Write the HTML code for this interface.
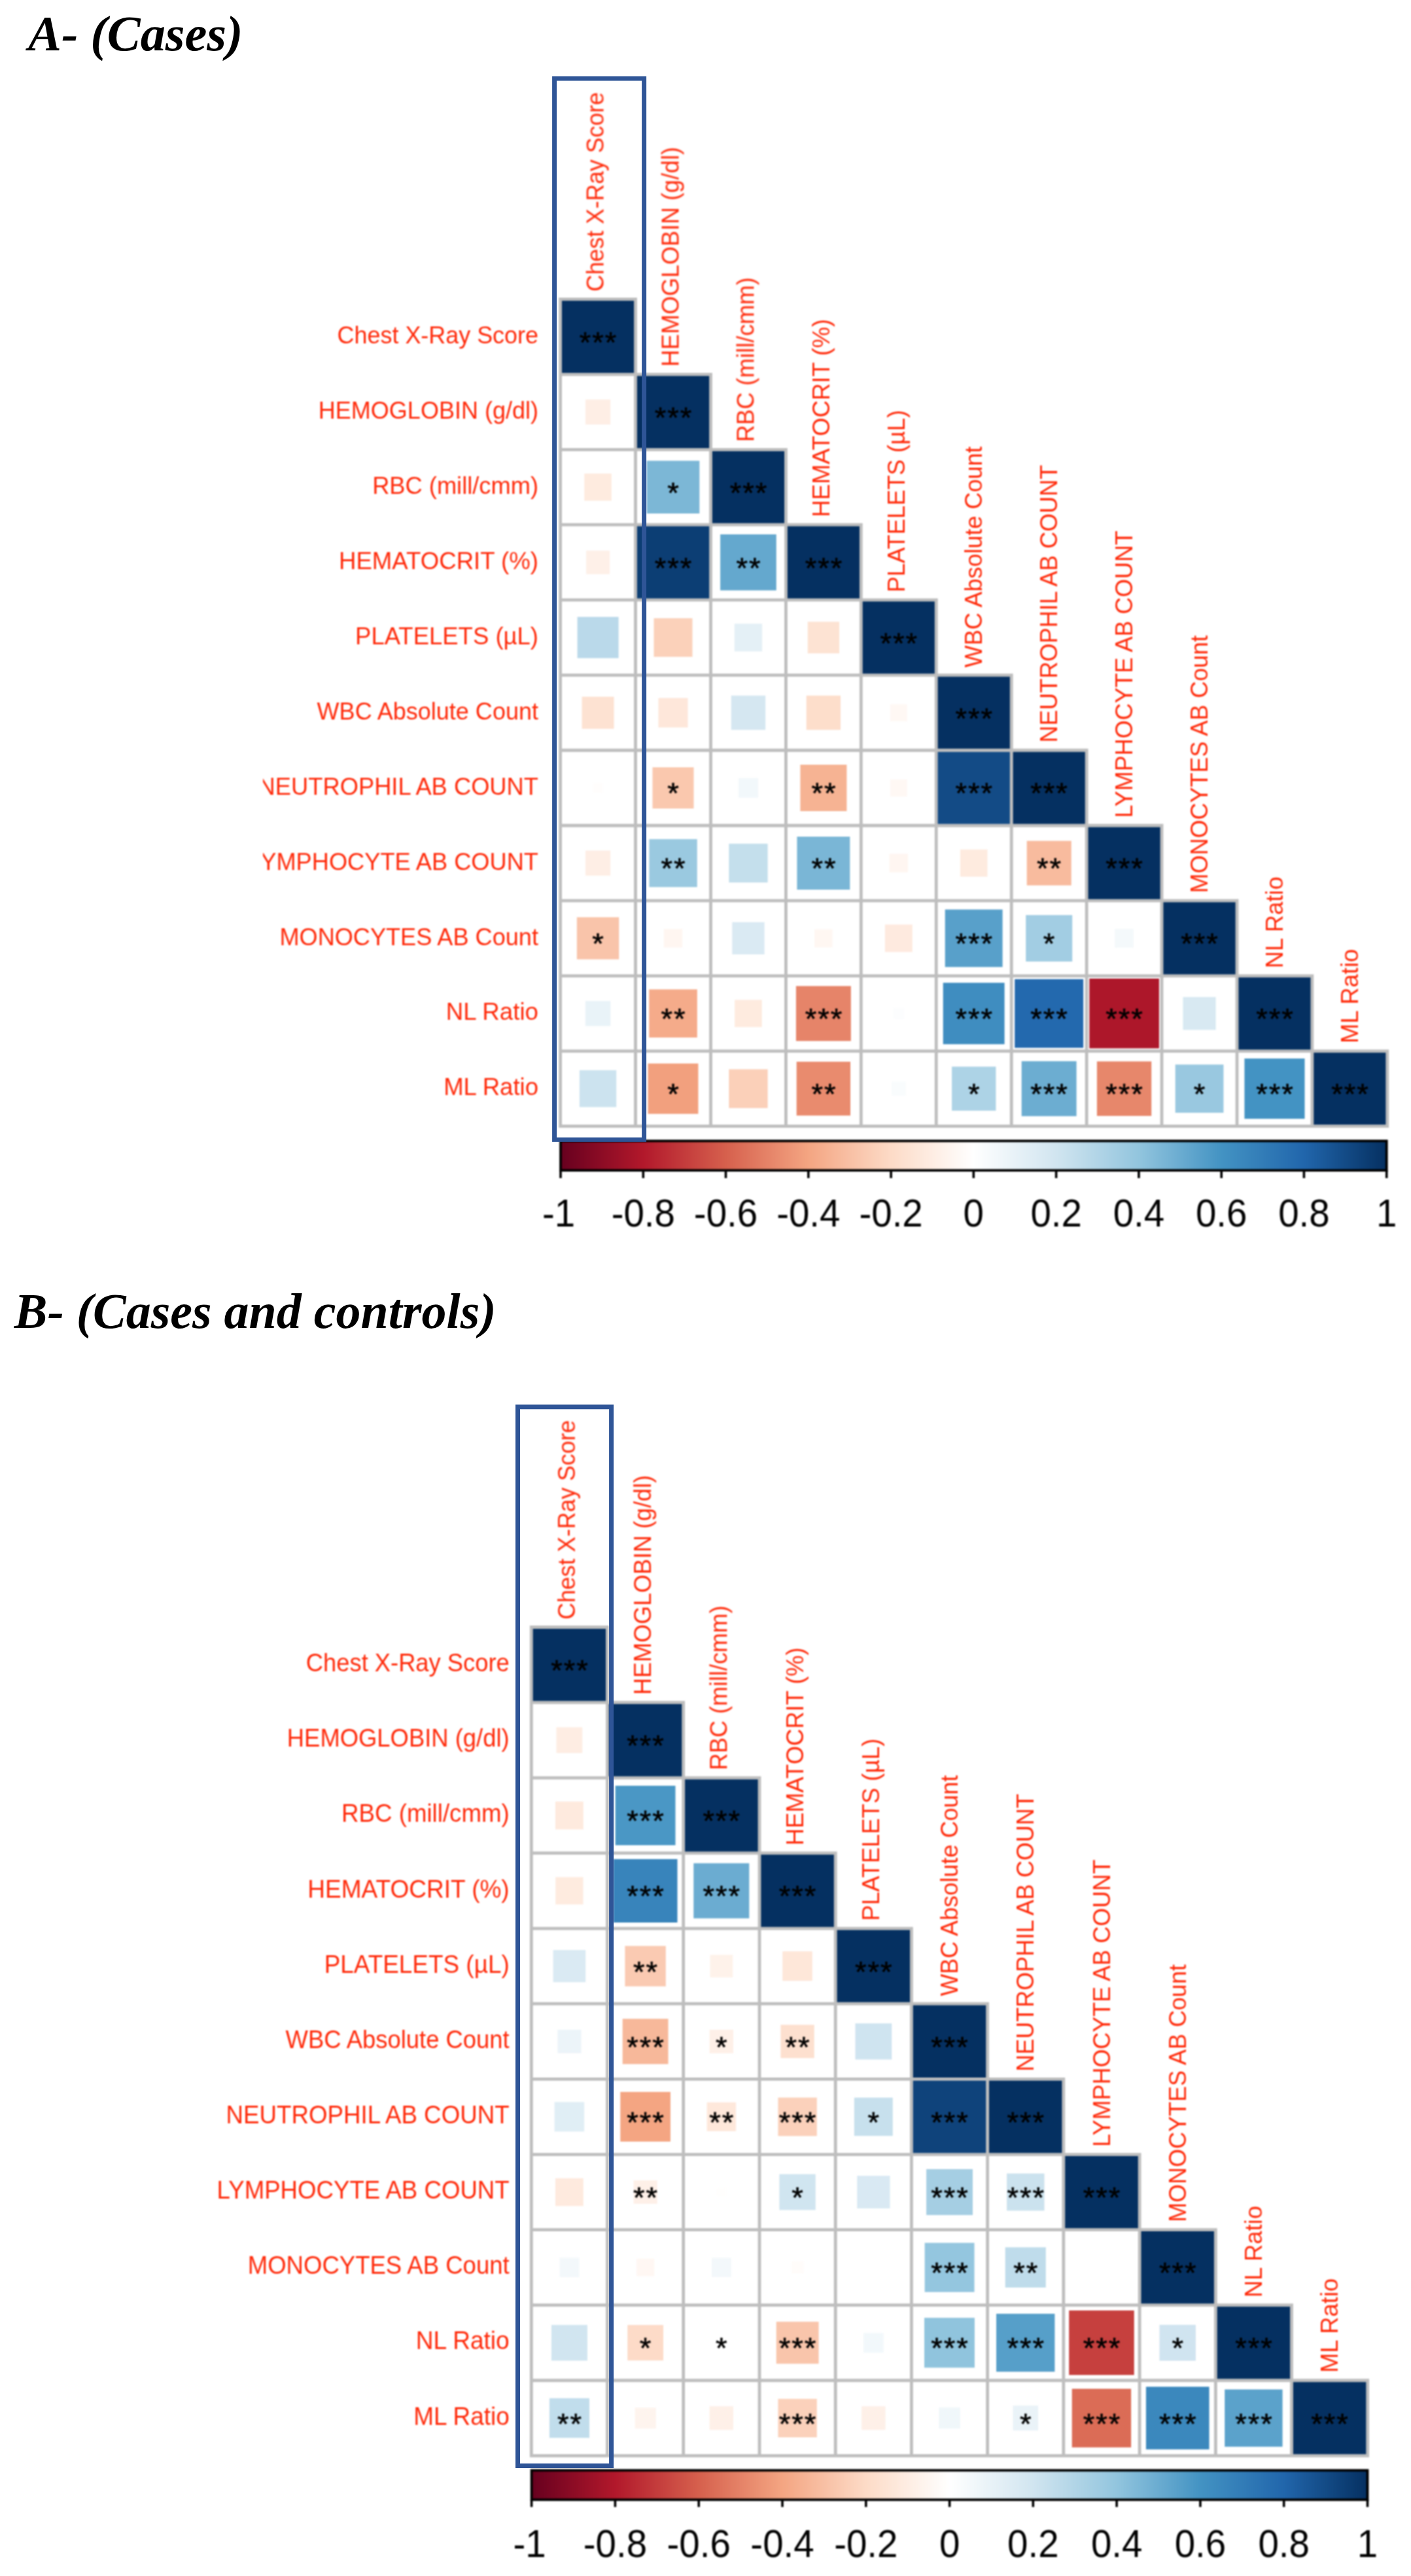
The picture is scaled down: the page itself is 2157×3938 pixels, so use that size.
<!DOCTYPE html>
<html><head><meta charset="utf-8"><title>Correlation plots</title>
<style>
html,body{margin:0;padding:0;background:#fff}
svg{display:block}
text{font-family:"Liberation Sans",sans-serif}
.ti{font-family:"Liberation Serif",serif;font-weight:bold;font-style:italic;fill:#000}
.st{font-size:45px;letter-spacing:2px;text-anchor:middle;fill:#000;stroke:#000;stroke-width:0.6px}
.tk{font-size:58.5px;text-anchor:middle;fill:#000}
.rl{text-anchor:end;fill:#FF2A0A}
.cl{text-anchor:start;fill:#FF2A0A}
</style></head><body>
<svg width="2157" height="3938" viewBox="0 0 2157 3938">
<rect width="2157" height="3938" fill="#fff"/>
<defs><linearGradient id="rdbu" x1="0" y1="0" x2="1" y2="0"><stop offset="0%" stop-color="#67001F"/><stop offset="10%" stop-color="#B2182B"/><stop offset="20%" stop-color="#D6604D"/><stop offset="30%" stop-color="#F4A582"/><stop offset="40%" stop-color="#FDDBC7"/><stop offset="50%" stop-color="#FFFFFF"/><stop offset="60%" stop-color="#D1E5F0"/><stop offset="70%" stop-color="#92C5DE"/><stop offset="80%" stop-color="#4393C3"/><stop offset="90%" stop-color="#2166AC"/><stop offset="100%" stop-color="#053061"/></linearGradient><filter id="soft" color-interpolation-filters="sRGB" filterUnits="userSpaceOnUse" x="0" y="0" width="2157" height="3938"><feGaussianBlur stdDeviation="0.9"/></filter></defs>
<text x="43" y="77" class="ti" font-size="76.3">A- (Cases)</text>
<text x="21.7" y="2030" class="ti" font-size="76">B- (Cases and controls)</text>
<g filter="url(#soft)">
<defs><clipPath id="clipA"><rect x="402" y="407" width="900" height="1400"/></clipPath></defs><rect x="856.6" y="457.4" width="114.9" height="114.9" fill="#053061"/>
<rect x="971.5" y="572.3" width="114.9" height="114.9" fill="#053061"/>
<rect x="894.9" y="610.7" width="38.3" height="38.3" fill="#FEEEE5"/>
<rect x="1086.5" y="687.3" width="114.9" height="114.9" fill="#053061"/>
<rect x="893.2" y="723.9" width="41.6" height="41.6" fill="#FEEBDF"/>
<rect x="988.7" y="704.4" width="80.6" height="80.6" fill="#7CB7D6"/>
<rect x="1201.4" y="802.2" width="114.9" height="114.9" fill="#053061"/>
<rect x="896.1" y="841.7" width="36.0" height="36.0" fill="#FEF0E8"/>
<rect x="971.5" y="802.2" width="115.0" height="115.0" fill="#0C3E74"/>
<rect x="1101.1" y="816.9" width="85.6" height="85.6" fill="#64A8CE"/>
<rect x="1316.3" y="917.2" width="114.9" height="114.9" fill="#053061"/>
<rect x="882.6" y="943.1" width="63.0" height="63.0" fill="#BAD9EA"/>
<rect x="999.5" y="945.1" width="59.0" height="59.0" fill="#FBD1BA"/>
<rect x="1122.8" y="953.5" width="42.3" height="42.3" fill="#E4F0F6"/>
<rect x="1234.7" y="950.5" width="48.3" height="48.3" fill="#FDE3D3"/>
<rect x="1431.3" y="1032.1" width="114.9" height="114.9" fill="#053061"/>
<rect x="889.6" y="1065.1" width="49.0" height="49.0" fill="#FDE2D2"/>
<rect x="1006.5" y="1067.1" width="45.0" height="45.0" fill="#FEE7DA"/>
<rect x="1117.8" y="1063.4" width="52.3" height="52.3" fill="#D5E7F1"/>
<rect x="1232.7" y="1063.4" width="52.3" height="52.3" fill="#FDDECB"/>
<rect x="1360.8" y="1076.6" width="26.0" height="26.0" fill="#FFF8F4"/>
<rect x="1546.2" y="1147.0" width="114.9" height="114.9" fill="#053061"/>
<rect x="906.6" y="1197.0" width="15.0" height="15.0" fill="#FFFDFC"/>
<rect x="997.5" y="1173.0" width="63.0" height="63.0" fill="#FAC8AE"/>
<rect x="1128.9" y="1189.5" width="30.0" height="30.0" fill="#F2F8FB"/>
<rect x="1223.4" y="1169.0" width="71.0" height="71.0" fill="#F6B393"/>
<rect x="1360.8" y="1191.5" width="26.0" height="26.0" fill="#FFF8F4"/>
<rect x="1431.2" y="1147.0" width="115.0" height="115.0" fill="#134B86"/>
<rect x="1661.1" y="1262.0" width="114.9" height="114.9" fill="#053061"/>
<rect x="894.9" y="1300.3" width="38.3" height="38.3" fill="#FEEEE5"/>
<rect x="992.4" y="1282.8" width="73.3" height="73.3" fill="#9AC9E0"/>
<rect x="1114.3" y="1289.8" width="59.3" height="59.3" fill="#C4DFEC"/>
<rect x="1218.4" y="1279.0" width="80.9" height="81.0" fill="#7AB6D6"/>
<rect x="1359.6" y="1305.3" width="28.3" height="28.3" fill="#FFF6F1"/>
<rect x="1467.9" y="1298.6" width="41.6" height="41.6" fill="#FEEBDF"/>
<rect x="1569.7" y="1285.5" width="68.0" height="68.0" fill="#F8BB9E"/>
<rect x="1776.0" y="1376.9" width="114.9" height="114.9" fill="#053061"/>
<rect x="881.9" y="1402.2" width="64.3" height="64.3" fill="#F9C4AA"/>
<rect x="1014.8" y="1420.2" width="28.3" height="28.3" fill="#FFF6F1"/>
<rect x="1119.3" y="1409.7" width="49.3" height="49.3" fill="#DAEAF3"/>
<rect x="1245.0" y="1420.6" width="27.6" height="27.7" fill="#FFF7F2"/>
<rect x="1352.8" y="1413.4" width="42.0" height="42.0" fill="#FEEADF"/>
<rect x="1444.7" y="1390.4" width="87.9" height="87.9" fill="#58A0CA"/>
<rect x="1568.2" y="1398.9" width="71.0" height="71.0" fill="#A2CDE3"/>
<rect x="1704.3" y="1420.1" width="28.6" height="28.7" fill="#F4F9FB"/>
<rect x="1891.0" y="1491.9" width="114.9" height="114.9" fill="#053061"/>
<rect x="894.9" y="1530.2" width="38.3" height="38.3" fill="#E9F3F8"/>
<rect x="992.2" y="1512.5" width="73.6" height="73.6" fill="#F5AB8A"/>
<rect x="1123.1" y="1528.5" width="41.6" height="41.6" fill="#FEEBDF"/>
<rect x="1216.9" y="1507.4" width="83.9" height="84.0" fill="#E68469"/>
<rect x="1365.5" y="1541.0" width="16.7" height="16.7" fill="#FCFDFE"/>
<rect x="1441.7" y="1502.4" width="93.9" height="93.9" fill="#3F8DC0"/>
<rect x="1551.2" y="1496.9" width="104.9" height="104.9" fill="#2369AE"/>
<rect x="1665.3" y="1496.0" width="106.6" height="106.6" fill="#AD172A"/>
<rect x="1808.4" y="1524.2" width="50.2" height="50.2" fill="#D8E9F2"/>
<rect x="2005.9" y="1606.8" width="114.9" height="114.9" fill="#053061"/>
<rect x="885.9" y="1636.1" width="56.3" height="56.3" fill="#CCE3EF"/>
<rect x="990.5" y="1625.8" width="76.9" height="77.0" fill="#F2A07E"/>
<rect x="1114.3" y="1634.6" width="59.3" height="59.3" fill="#FBD0B9"/>
<rect x="1217.7" y="1623.1" width="82.3" height="82.3" fill="#E98B6E"/>
<rect x="1363.0" y="1653.4" width="21.7" height="21.7" fill="#F9FCFD"/>
<rect x="1455.1" y="1630.6" width="67.3" height="67.3" fill="#ADD3E6"/>
<rect x="1561.7" y="1622.3" width="83.9" height="84.0" fill="#6CADD1"/>
<rect x="1676.9" y="1622.6" width="83.3" height="83.3" fill="#E7876B"/>
<rect x="1796.7" y="1627.4" width="73.7" height="73.7" fill="#99C8E0"/>
<rect x="1902.4" y="1618.2" width="92.1" height="92.1" fill="#4393C3"/>
<path d="M854.2 457.4H973.9M854.2 572.3H1088.9M854.2 687.3H1203.8M854.2 802.2H1318.7M854.2 917.2H1433.7M854.2 1032.1H1548.6M854.2 1147.0H1663.5M854.2 1262.0H1778.4M854.2 1376.9H1893.4M854.2 1491.9H2008.3M854.2 1606.8H2123.2M854.2 1721.7H2123.2M856.6 455.0V1724.1M971.5 455.0V1724.1M1086.5 569.9V1724.1M1201.4 684.9V1724.1M1316.3 799.8V1724.1M1431.2 914.8V1724.1M1546.2 1029.7V1724.1M1661.1 1144.6V1724.1M1776.0 1259.6V1724.1M1891.0 1374.5V1724.1M2005.9 1489.5V1724.1M2120.8 1604.4V1724.1" stroke="#BEBEBE" stroke-width="4.8" fill="none"/>
<text x="915.1" y="538.8" class="st">***</text>
<text x="1030.0" y="653.7" class="st">***</text>
<text x="1144.9" y="768.6" class="st">***</text>
<text x="1030.0" y="768.6" class="st">*</text>
<text x="1259.9" y="883.6" class="st">***</text>
<text x="1030.0" y="883.6" class="st">***</text>
<text x="1144.9" y="883.6" class="st">**</text>
<text x="1374.8" y="998.5" class="st">***</text>
<text x="1489.7" y="1113.5" class="st">***</text>
<text x="1604.6" y="1228.4" class="st">***</text>
<text x="1030.0" y="1228.4" class="st">*</text>
<text x="1259.9" y="1228.4" class="st">**</text>
<text x="1489.7" y="1228.4" class="st">***</text>
<text x="1719.6" y="1343.3" class="st">***</text>
<text x="1030.0" y="1343.3" class="st">**</text>
<text x="1259.9" y="1343.3" class="st">**</text>
<text x="1604.6" y="1343.3" class="st">**</text>
<text x="1834.5" y="1458.3" class="st">***</text>
<text x="915.1" y="1458.3" class="st">*</text>
<text x="1489.7" y="1458.3" class="st">***</text>
<text x="1604.6" y="1458.3" class="st">*</text>
<text x="1949.4" y="1573.2" class="st">***</text>
<text x="1030.0" y="1573.2" class="st">**</text>
<text x="1259.9" y="1573.2" class="st">***</text>
<text x="1489.7" y="1573.2" class="st">***</text>
<text x="1604.6" y="1573.2" class="st">***</text>
<text x="1719.6" y="1573.2" class="st">***</text>
<text x="2064.4" y="1688.2" class="st">***</text>
<text x="1030.0" y="1688.2" class="st">*</text>
<text x="1259.9" y="1688.2" class="st">**</text>
<text x="1489.7" y="1688.2" class="st">*</text>
<text x="1604.6" y="1688.2" class="st">***</text>
<text x="1719.6" y="1688.2" class="st">***</text>
<text x="1834.5" y="1688.2" class="st">*</text>
<text x="1949.4" y="1688.2" class="st">***</text>
<rect x="857.0" y="1744.2" width="1262.7" height="45.0" fill="url(#rdbu)" stroke="#000" stroke-width="3.8"/>
<path d="M857.0 1789.2V1801.0M983.3 1789.2V1801.0M1109.5 1789.2V1801.0M1235.8 1789.2V1801.0M1362.1 1789.2V1801.0M1488.3 1789.2V1801.0M1614.6 1789.2V1801.0M1740.9 1789.2V1801.0M1867.2 1789.2V1801.0M1993.4 1789.2V1801.0M2119.7 1789.2V1801.0" stroke="#000" stroke-width="3.6" fill="none"/>
<text transform="translate(854.0 1875.0) scale(0.965 1)" class="tk">-1</text>
<text transform="translate(983.3 1875.0) scale(0.965 1)" class="tk">-0.8</text>
<text transform="translate(1109.5 1875.0) scale(0.965 1)" class="tk">-0.6</text>
<text transform="translate(1235.8 1875.0) scale(0.965 1)" class="tk">-0.4</text>
<text transform="translate(1362.1 1875.0) scale(0.965 1)" class="tk">-0.2</text>
<text transform="translate(1488.3 1875.0) scale(0.965 1)" class="tk">0</text>
<text transform="translate(1614.6 1875.0) scale(0.965 1)" class="tk">0.2</text>
<text transform="translate(1740.9 1875.0) scale(0.965 1)" class="tk">0.4</text>
<text transform="translate(1867.2 1875.0) scale(0.965 1)" class="tk">0.6</text>
<text transform="translate(1993.4 1875.0) scale(0.965 1)" class="tk">0.8</text>
<text transform="translate(2119.7 1875.0) scale(0.965 1)" class="tk">1</text>
<g clip-path="url(#clipA)">
<text transform="translate(823.0 525.0) scale(1.001 1.045)" class="rl" font-size="35.9">Chest X-Ray Score</text>
<text transform="translate(823.0 639.9) scale(1.0035 1.045)" class="rl" font-size="35.9">HEMOGLOBIN (g/dl)</text>
<text transform="translate(823.0 754.9) scale(1.0105 1.045)" class="rl" font-size="35.9">RBC (mill/cmm)</text>
<text transform="translate(823.0 869.8) scale(1.02 1.045)" class="rl" font-size="35.9">HEMATOCRIT (%)</text>
<text transform="translate(823.0 984.7) scale(1.0166 1.045)" class="rl" font-size="35.9">PLATELETS (µL)</text>
<text transform="translate(823.0 1099.7) scale(1.004 1.045)" class="rl" font-size="35.9">WBC Absolute Count</text>
<text transform="translate(823.0 1214.6) scale(1.012 1.045)" class="rl" font-size="35.9">NEUTROPHIL AB COUNT</text>
<text transform="translate(823.0 1329.5) scale(1.0095 1.045)" class="rl" font-size="35.9">LYMPHOCYTE AB COUNT</text>
<text transform="translate(823.0 1444.5) scale(1.0065 1.045)" class="rl" font-size="35.9">MONOCYTES AB Count</text>
<text transform="translate(823.0 1559.4) scale(1.022 1.045)" class="rl" font-size="35.9">NL Ratio</text>
<text transform="translate(823.0 1674.4) scale(1.018 1.045)" class="rl" font-size="35.9">ML Ratio</text>
</g>
<text transform="translate(923.1 445.7) rotate(-90) scale(0.99 1.045)" class="cl" font-size="36">Chest X-Ray Score</text>
<text transform="translate(1038.0 560.6) rotate(-90) scale(1.0 1.045)" class="cl" font-size="36">HEMOGLOBIN (g/dl)</text>
<text transform="translate(1152.9 675.6) rotate(-90) scale(1.0 1.045)" class="cl" font-size="36">RBC (mill/cmm)</text>
<text transform="translate(1267.9 790.5) rotate(-90) scale(1.01 1.045)" class="cl" font-size="36">HEMATOCRIT (%)</text>
<text transform="translate(1382.8 905.5) rotate(-90) scale(1.01 1.045)" class="cl" font-size="36">PLATELETS (µL)</text>
<text transform="translate(1501.3 1020.4) rotate(-90) scale(1.0 1.045)" class="cl" font-size="36">WBC Absolute Count</text>
<text transform="translate(1616.2 1135.3) rotate(-90) scale(1.0 1.045)" class="cl" font-size="36">NEUTROPHIL AB COUNT</text>
<text transform="translate(1731.2 1250.3) rotate(-90) scale(1.0 1.045)" class="cl" font-size="36">LYMPHOCYTE AB COUNT</text>
<text transform="translate(1846.1 1365.2) rotate(-90) scale(1.0 1.045)" class="cl" font-size="36">MONOCYTES AB Count</text>
<text transform="translate(1961.0 1480.2) rotate(-90) scale(1.01 1.045)" class="cl" font-size="36">NL Ratio</text>
<text transform="translate(2076.0 1595.1) rotate(-90) scale(1.012 1.045)" class="cl" font-size="36">ML Ratio</text>
<defs><clipPath id="clipB"><rect x="0" y="2438" width="900" height="1400"/></clipPath></defs><rect x="812.3" y="2487.5" width="116.2" height="115.2" fill="#053061"/>
<rect x="928.5" y="2602.7" width="116.2" height="115.2" fill="#053061"/>
<rect x="850.5" y="2640.5" width="39.8" height="39.4" fill="#FEEDE3"/>
<rect x="1044.7" y="2717.8" width="116.2" height="115.2" fill="#053061"/>
<rect x="849.0" y="2754.1" width="42.8" height="42.5" fill="#FEEADE"/>
<rect x="940.7" y="2729.9" width="91.8" height="90.9" fill="#4A97C5"/>
<rect x="1161.0" y="2833.0" width="116.2" height="115.2" fill="#053061"/>
<rect x="849.3" y="2869.6" width="42.2" height="41.8" fill="#FEEBDF"/>
<rect x="937.7" y="2842.1" width="97.8" height="96.9" fill="#3884BB"/>
<rect x="1060.3" y="2848.4" width="85.0" height="84.2" fill="#6BACD1"/>
<rect x="1277.2" y="2948.1" width="116.2" height="115.2" fill="#053061"/>
<rect x="845.6" y="2981.1" width="49.6" height="49.1" fill="#DAEAF3"/>
<rect x="955.4" y="2974.8" width="62.4" height="61.8" fill="#FACAB2"/>
<rect x="1085.5" y="2988.5" width="34.8" height="34.4" fill="#FEF2EA"/>
<rect x="1196.3" y="2983.1" width="45.5" height="45.1" fill="#FEE7D9"/>
<rect x="1393.4" y="3063.2" width="116.2" height="115.2" fill="#053061"/>
<rect x="852.4" y="3102.9" width="36.1" height="35.8" fill="#ECF4F9"/>
<rect x="951.7" y="3086.2" width="69.8" height="69.2" fill="#F7B89A"/>
<rect x="1084.6" y="3102.8" width="36.4" height="36.1" fill="#FEF0E8"/>
<rect x="1193.4" y="3095.4" width="51.3" height="50.8" fill="#FDE0CF"/>
<rect x="1307.5" y="3093.2" width="55.7" height="55.2" fill="#CFE4F0"/>
<rect x="1509.6" y="3178.4" width="116.2" height="115.2" fill="#053061"/>
<rect x="847.6" y="3213.4" width="45.5" height="45.1" fill="#E0EEF5"/>
<rect x="948.3" y="3198.0" width="76.6" height="75.9" fill="#F4A582"/>
<rect x="1080.6" y="3213.9" width="44.5" height="44.1" fill="#FEE8DB"/>
<rect x="1189.4" y="3206.6" width="59.4" height="58.8" fill="#FBD1BB"/>
<rect x="1305.8" y="3206.7" width="59.0" height="58.5" fill="#C7E0ED"/>
<rect x="1393.5" y="3178.5" width="116.0" height="114.9" fill="#0F437B"/>
<rect x="1625.8" y="3293.6" width="116.2" height="115.2" fill="#053061"/>
<rect x="849.0" y="3329.9" width="42.8" height="42.5" fill="#FEEADE"/>
<rect x="968.6" y="3333.2" width="36.1" height="35.8" fill="#FEF0E8"/>
<rect x="1096.1" y="3344.4" width="13.5" height="13.4" fill="#FFFEFD"/>
<rect x="1191.4" y="3323.7" width="55.3" height="54.8" fill="#D0E5F0"/>
<rect x="1310.2" y="3326.2" width="50.3" height="49.8" fill="#D9E9F3"/>
<rect x="1416.1" y="3316.0" width="70.9" height="70.2" fill="#A5CEE3"/>
<rect x="1539.1" y="3322.7" width="57.4" height="56.8" fill="#CBE2EE"/>
<rect x="1742.1" y="3408.7" width="116.2" height="115.2" fill="#053061"/>
<rect x="855.4" y="3451.4" width="30.0" height="29.8" fill="#F3F8FB"/>
<rect x="973.1" y="3452.9" width="27.0" height="26.7" fill="#FFF7F3"/>
<rect x="1088.0" y="3451.6" width="29.7" height="29.4" fill="#F3F8FB"/>
<rect x="1209.6" y="3456.9" width="18.9" height="18.7" fill="#FFFCFA"/>
<rect x="1413.6" y="3428.7" width="75.9" height="75.2" fill="#94C6DF"/>
<rect x="1536.7" y="3435.5" width="62.1" height="61.5" fill="#BFDCEB"/>
<rect x="1858.3" y="3523.9" width="116.2" height="115.2" fill="#053061"/>
<rect x="842.9" y="3554.2" width="55.0" height="54.5" fill="#D1E5F0"/>
<rect x="959.3" y="3554.3" width="54.7" height="54.2" fill="#FDDBC8"/>
<rect x="1186.7" y="3549.3" width="64.8" height="64.2" fill="#F9C5AB"/>
<rect x="1320.1" y="3566.4" width="30.4" height="30.1" fill="#F2F8FB"/>
<rect x="1413.0" y="3543.3" width="76.9" height="76.2" fill="#90C4DD"/>
<rect x="1523.0" y="3537.1" width="89.4" height="88.6" fill="#569FC9"/>
<rect x="1634.2" y="3532.1" width="99.5" height="98.6" fill="#C6403E"/>
<rect x="1772.5" y="3554.0" width="55.4" height="54.9" fill="#D0E4F0"/>
<rect x="1974.5" y="3639.0" width="116.2" height="115.2" fill="#053061"/>
<rect x="839.9" y="3666.3" width="61.1" height="60.5" fill="#C1DDEC"/>
<rect x="970.6" y="3680.7" width="32.1" height="31.8" fill="#FEF4EE"/>
<rect x="1084.6" y="3678.5" width="36.4" height="36.1" fill="#FEF0E8"/>
<rect x="1189.4" y="3667.2" width="59.4" height="58.8" fill="#FBD1BB"/>
<rect x="1317.1" y="3678.5" width="36.4" height="36.1" fill="#FEF0E8"/>
<rect x="1435.3" y="3680.5" width="32.4" height="32.1" fill="#F0F7FA"/>
<rect x="1548.5" y="3677.5" width="38.5" height="38.1" fill="#EAF3F8"/>
<rect x="1638.7" y="3651.8" width="90.4" height="89.6" fill="#DB6C56"/>
<rect x="1751.9" y="3648.7" width="96.6" height="95.7" fill="#3B88BD"/>
<rect x="1872.2" y="3652.8" width="88.4" height="87.6" fill="#5BA2CB"/>
<path d="M809.9 2487.5H930.9M809.9 2602.7H1047.1M809.9 2717.8H1163.4M809.9 2832.9H1279.6M809.9 2948.1H1395.8M809.9 3063.2H1512.0M809.9 3178.4H1628.2M809.9 3293.6H1744.5M809.9 3408.7H1860.7M809.9 3523.9H1976.9M809.9 3639.0H2093.1M809.9 3754.2H2093.1M812.3 2485.1V3756.6M928.5 2485.1V3756.6M1044.7 2600.2V3756.6M1161.0 2715.4V3756.6M1277.2 2830.5V3756.6M1393.4 2945.7V3756.6M1509.6 3060.8V3756.6M1625.8 3176.0V3756.6M1742.1 3291.2V3756.6M1858.3 3406.3V3756.6M1974.5 3521.5V3756.6M2090.7 3636.6V3756.6" stroke="#BEBEBE" stroke-width="4.8" fill="none"/>
<text x="871.4" y="2569.0" class="st">***</text>
<text x="987.6" y="2684.1" class="st">***</text>
<text x="1103.8" y="2799.3" class="st">***</text>
<text x="987.6" y="2799.3" class="st">***</text>
<text x="1220.1" y="2914.4" class="st">***</text>
<text x="987.6" y="2914.4" class="st">***</text>
<text x="1103.8" y="2914.4" class="st">***</text>
<text x="1336.3" y="3029.6" class="st">***</text>
<text x="987.6" y="3029.6" class="st">**</text>
<text x="1452.5" y="3144.7" class="st">***</text>
<text x="987.6" y="3144.7" class="st">***</text>
<text x="1103.8" y="3144.7" class="st">*</text>
<text x="1220.1" y="3144.7" class="st">**</text>
<text x="1568.7" y="3259.9" class="st">***</text>
<text x="987.6" y="3259.9" class="st">***</text>
<text x="1103.8" y="3259.9" class="st">**</text>
<text x="1220.1" y="3259.9" class="st">***</text>
<text x="1336.3" y="3259.9" class="st">*</text>
<text x="1452.5" y="3259.9" class="st">***</text>
<text x="1684.9" y="3375.0" class="st">***</text>
<text x="987.6" y="3375.0" class="st">**</text>
<text x="1220.1" y="3375.0" class="st">*</text>
<text x="1452.5" y="3375.0" class="st">***</text>
<text x="1568.7" y="3375.0" class="st">***</text>
<text x="1801.2" y="3490.2" class="st">***</text>
<text x="1452.5" y="3490.2" class="st">***</text>
<text x="1568.7" y="3490.2" class="st">**</text>
<text x="1917.4" y="3605.3" class="st">***</text>
<text x="987.6" y="3605.3" class="st">*</text>
<text x="1103.8" y="3605.3" class="st">*</text>
<text x="1220.1" y="3605.3" class="st">***</text>
<text x="1452.5" y="3605.3" class="st">***</text>
<text x="1568.7" y="3605.3" class="st">***</text>
<text x="1684.9" y="3605.3" class="st">***</text>
<text x="1801.2" y="3605.3" class="st">*</text>
<text x="2033.6" y="3720.5" class="st">***</text>
<text x="871.4" y="3720.5" class="st">**</text>
<text x="1220.1" y="3720.5" class="st">***</text>
<text x="1568.7" y="3720.5" class="st">*</text>
<text x="1684.9" y="3720.5" class="st">***</text>
<text x="1801.2" y="3720.5" class="st">***</text>
<text x="1917.4" y="3720.5" class="st">***</text>
<rect x="812.6" y="3776.5" width="1277.9" height="44.9" fill="url(#rdbu)" stroke="#000" stroke-width="3.8"/>
<path d="M812.6 3821.4V3832.5M940.4 3821.4V3832.5M1068.2 3821.4V3832.5M1196.0 3821.4V3832.5M1323.8 3821.4V3832.5M1451.6 3821.4V3832.5M1579.3 3821.4V3832.5M1707.1 3821.4V3832.5M1834.9 3821.4V3832.5M1962.7 3821.4V3832.5M2090.5 3821.4V3832.5" stroke="#000" stroke-width="3.6" fill="none"/>
<text transform="translate(809.6 3908.5) scale(0.965 1)" class="tk">-1</text>
<text transform="translate(940.4 3908.5) scale(0.965 1)" class="tk">-0.8</text>
<text transform="translate(1068.2 3908.5) scale(0.965 1)" class="tk">-0.6</text>
<text transform="translate(1196.0 3908.5) scale(0.965 1)" class="tk">-0.4</text>
<text transform="translate(1323.8 3908.5) scale(0.965 1)" class="tk">-0.2</text>
<text transform="translate(1451.6 3908.5) scale(0.965 1)" class="tk">0</text>
<text transform="translate(1579.3 3908.5) scale(0.965 1)" class="tk">0.2</text>
<text transform="translate(1707.1 3908.5) scale(0.965 1)" class="tk">0.4</text>
<text transform="translate(1834.9 3908.5) scale(0.965 1)" class="tk">0.6</text>
<text transform="translate(1962.7 3908.5) scale(0.965 1)" class="tk">0.8</text>
<text transform="translate(2090.5 3908.5) scale(0.965 1)" class="tk">1</text>
<g clip-path="url(#clipB)">
<text transform="translate(778.7 2555.2) scale(1.001 1.045)" class="rl" font-size="36.3">Chest X-Ray Score</text>
<text transform="translate(778.7 2670.3) scale(1.0035 1.045)" class="rl" font-size="36.3">HEMOGLOBIN (g/dl)</text>
<text transform="translate(778.7 2785.5) scale(1.0105 1.045)" class="rl" font-size="36.3">RBC (mill/cmm)</text>
<text transform="translate(778.7 2900.6) scale(1.02 1.045)" class="rl" font-size="36.3">HEMATOCRIT (%)</text>
<text transform="translate(778.7 3015.8) scale(1.0166 1.045)" class="rl" font-size="36.3">PLATELETS (µL)</text>
<text transform="translate(778.7 3130.9) scale(1.004 1.045)" class="rl" font-size="36.3">WBC Absolute Count</text>
<text transform="translate(778.7 3246.1) scale(1.012 1.045)" class="rl" font-size="36.3">NEUTROPHIL AB COUNT</text>
<text transform="translate(778.7 3361.2) scale(1.0095 1.045)" class="rl" font-size="36.3">LYMPHOCYTE AB COUNT</text>
<text transform="translate(778.7 3476.4) scale(1.0065 1.045)" class="rl" font-size="36.3">MONOCYTES AB Count</text>
<text transform="translate(778.7 3591.5) scale(1.022 1.045)" class="rl" font-size="36.3">NL Ratio</text>
<text transform="translate(778.7 3706.7) scale(1.018 1.045)" class="rl" font-size="36.3">ML Ratio</text>
</g>
<text transform="translate(879.4 2475.8) rotate(-90) scale(0.99 1.045)" class="cl" font-size="36">Chest X-Ray Score</text>
<text transform="translate(995.6 2591.0) rotate(-90) scale(1.0 1.045)" class="cl" font-size="36">HEMOGLOBIN (g/dl)</text>
<text transform="translate(1111.8 2706.1) rotate(-90) scale(1.0 1.045)" class="cl" font-size="36">RBC (mill/cmm)</text>
<text transform="translate(1228.1 2821.2) rotate(-90) scale(1.01 1.045)" class="cl" font-size="36">HEMATOCRIT (%)</text>
<text transform="translate(1344.3 2936.4) rotate(-90) scale(1.01 1.045)" class="cl" font-size="36">PLATELETS (µL)</text>
<text transform="translate(1464.1 3051.6) rotate(-90) scale(1.0 1.045)" class="cl" font-size="36">WBC Absolute Count</text>
<text transform="translate(1580.3 3166.7) rotate(-90) scale(1.0 1.045)" class="cl" font-size="36">NEUTROPHIL AB COUNT</text>
<text transform="translate(1696.5 3281.9) rotate(-90) scale(1.0 1.045)" class="cl" font-size="36">LYMPHOCYTE AB COUNT</text>
<text transform="translate(1812.8 3397.0) rotate(-90) scale(1.0 1.045)" class="cl" font-size="36">MONOCYTES AB Count</text>
<text transform="translate(1929.0 3512.2) rotate(-90) scale(1.01 1.045)" class="cl" font-size="36">NL Ratio</text>
<text transform="translate(2045.2 3627.3) rotate(-90) scale(1.012 1.045)" class="cl" font-size="36">ML Ratio</text>
</g>
<rect x="847.6" y="120.0" width="137.0" height="1622.3" fill="none" stroke="#2F5597" stroke-width="7"/>
<rect x="791.5" y="2150.8" width="143.1" height="1618.7" fill="none" stroke="#2F5597" stroke-width="7"/>
</svg>
</body></html>
